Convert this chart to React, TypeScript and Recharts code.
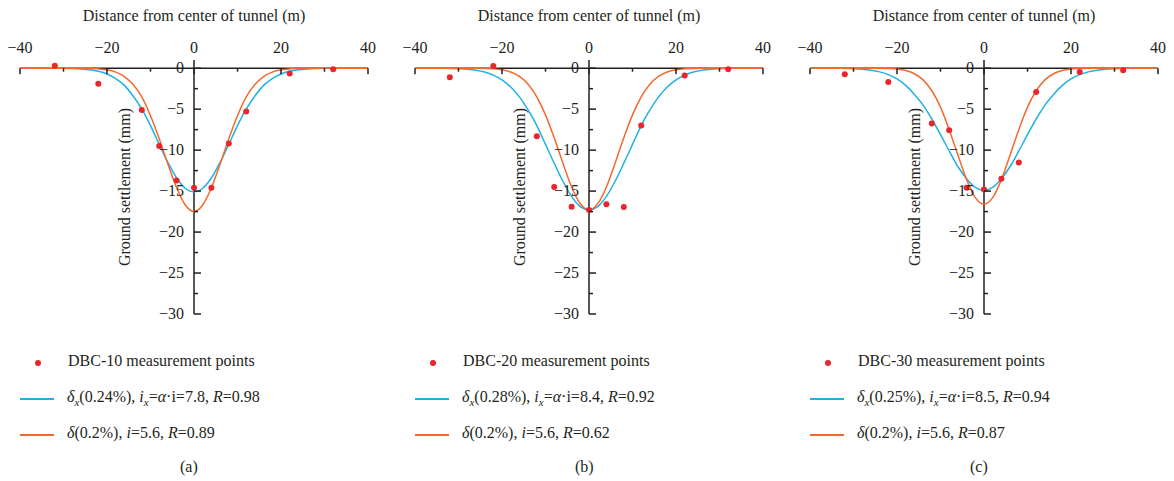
import { ComposedChart, Line, Scatter, XAxis, YAxis, ReferenceLine } from 'recharts';

// x positions of the fitted curves (m)
const xGrid = [
  -40, -38, -36, -34, -32, -30, -28, -26, -24, -22, -20, -18, -16, -14, -12, -10, -8, -6, -4, -2,
  0, 2, 4, 6, 8, 10, 12, 14, 16, 18, 20, 22, 24, 26, 28, 30, 32, 34, 36, 38, 40,
];

// fitted settlement curves (mm)
const blueA = [
  0, 0, 0, 0, 0, -0.02, -0.04, -0.09, -0.19, -0.38, -0.71, -1.27, -2.1, -3.4, -5.0, -7.0, -9.3, -11.5, -13.4, -14.65,
  -15.1, -14.65, -13.4, -11.5, -9.3, -7.0, -5.0, -3.4, -2.1, -1.27, -0.71, -0.38, -0.19, -0.09, -0.04, -0.02, 0, 0, 0, 0, 0,
];
const orangeA = [
  0, 0, 0, 0, 0, 0, 0, 0, -0.03, -0.08, -0.2, -0.48, -1.02, -2.0, -3.5, -5.8, -8.6, -11.7, -14.6, -16.7,
  -17.5, -16.7, -14.6, -11.7, -8.6, -5.8, -3.5, -2.0, -1.02, -0.48, -0.2, -0.08, -0.03, 0, 0, 0, 0, 0, 0, 0, 0,
];
const blueB = [
  0, 0, 0, 0, -0.03, -0.06, -0.13, -0.25, -0.47, -0.84, -1.42, -2.3, -3.5, -5.1, -7.0, -9.3, -11.6, -13.8, -15.65, -16.9,
  -17.3, -16.9, -15.65, -13.8, -11.6, -9.3, -7.0, -5.1, -3.5, -2.3, -1.42, -0.84, -0.47, -0.25, -0.13, -0.06, -0.03, 0, 0, 0, 0,
];
const orangeB = [
  0, 0, 0, 0, 0, 0, 0, 0, -0.03, -0.08, -0.2, -0.47, -1.0, -1.95, -3.5, -5.7, -8.5, -11.6, -14.5, -16.55,
  -17.3, -16.55, -14.5, -11.6, -8.5, -5.7, -3.5, -1.95, -1.0, -0.47, -0.2, -0.08, -0.03, 0, 0, 0, 0, 0, 0, 0, 0,
];
const blueC = [
  0, 0, 0, 0, -0.03, -0.06, -0.13, -0.25, -0.45, -0.79, -1.3, -2.1, -3.2, -4.5, -6.2, -8.1, -10.1, -12.0, -13.5, -14.55,
  -14.9, -14.55, -13.5, -12.0, -10.1, -8.1, -6.2, -4.5, -3.2, -2.1, -1.3, -0.79, -0.45, -0.25, -0.13, -0.06, -0.03, 0, 0, 0, 0,
];
const orangeC = [
  0, 0, 0, 0, 0, 0, 0, 0, -0.01, -0.04, -0.11, -0.29, -0.68, -1.43, -2.75, -4.75, -7.5, -10.6, -13.6, -15.8,
  -16.6, -15.8, -13.6, -10.6, -7.5, -4.75, -2.75, -1.43, -0.68, -0.29, -0.11, -0.04, -0.01, 0, 0, 0, 0, 0, 0, 0, 0,
];

// measurement points
const pointX = [-32, -22, -12, -8, -4, 0, 4, 8, 12, 22, 32];
const pointsA = [0.3, -1.9, -5.1, -9.5, -13.7, -14.6, -14.6, -9.2, -5.3, -0.65, -0.12];
const pointsB = [-1.1, 0.28, -8.3, -14.5, -16.9, -17.3, -16.6, -16.95, -7.0, -0.9, -0.12];
const pointsC = [-0.73, -1.7, -6.75, -7.56, -14.6, -14.8, -13.5, -11.5, -2.9, -0.45, -0.25];

const xTicks = [-40, -30, -20, -10, 0, 10, 20, 30, 40];
const xLabels = [-40, -20, 0, 20, 40];
const yTicks = [0, -2.5, -5, -7.5, -10, -12.5, -15, -17.5, -20, -22.5, -25, -27.5, -30];
const yLabels = [0, -5, -10, -15, -20, -25, -30];

const panels = [
  { tag: '(a)', name: 'DBC-10', blue: blueA, orange: orangeA, pts: pointsA, pct: '0.24%', ix: '7.8', rb: '0.98', ro: '0.89' },
  { tag: '(b)', name: 'DBC-20', blue: blueB, orange: orangeB, pts: pointsB, pct: '0.28%', ix: '8.4', rb: '0.92', ro: '0.62' },
  { tag: '(c)', name: 'DBC-30', blue: blueC, orange: orangeC, pts: pointsC, pct: '0.25%', ix: '8.5', rb: '0.94', ro: '0.87' },
];

const INK = '#231f20';
const BLUE = '#1fb1e6';
const ORANGE = '#f26a2e';
const RED = '#e8262b';
const FONT = "'Liberation Serif', 'Times New Roman', serif";

const CHART_W = 384;
const CHART_H = 330;
const PLOT_LEFT = 20;
const PLOT_TOP = 60;
const PLOT_W = 348;
const PLOT_H = 254;
const X_MIN = -40;
const X_SPAN = 80;
const AXIS_X = PLOT_LEFT + PLOT_W / 2;
const AXIS_Y = PLOT_TOP + PLOT_H / 31;

const fmt = (v: number) => (v < 0 ? '\u2212' + Math.abs(v) : String(v));

// x-axis tick labels, above the zero line
function XTick(props: any) {
  const { x, payload } = props;
  const v = payload.value;
  if (!xLabels.includes(v)) return <g />;
  return (
    <text x={x} y={AXIS_Y - 15} textAnchor="middle" fontSize={16} fontFamily={FONT} fill={INK}>
      {fmt(v)}
    </text>
  );
}

// y-axis ticks sit on the x = 0 line; the zero tick also carries the marks hanging under the x axis
function YTick(props: any) {
  const { y, payload } = props;
  const v = payload.value;
  const major = yLabels.includes(v);
  return (
    <g>
      <rect x={AXIS_X} y={y - 0.75} width={major ? 7 : 4} height={1.5} fill={INK} />
      {v === 0 &&
        xTicks.map((t) => {
          const tx = PLOT_LEFT + ((t - X_MIN) / X_SPAN) * PLOT_W;
          return (
            <rect key={t} x={tx - 0.75} y={y} width={1.5} height={xLabels.includes(t) ? 6 : 3.5} fill={INK} />
          );
        })}
      {major && (
        <text x={AXIS_X - 10} y={y + 5} textAnchor="end" fontSize={16} fontFamily={FONT} fill={INK}>
          {fmt(v)}
        </text>
      )}
    </g>
  );
}

function XTitle() {
  return (
    <text x={AXIS_X} y={21} textAnchor="middle" fontSize={16} fontFamily={FONT} fill={INK}>
      Distance from center of tunnel (m)
    </text>
  );
}

function YTitle() {
  const cx = PLOT_LEFT + 105;
  const cy = PLOT_TOP + PLOT_H / 2;
  return (
    <text
      x={cx}
      y={cy}
      transform={`rotate(-90 ${cx} ${cy})`}
      dy={5}
      textAnchor="middle"
      fontSize={16}
      fontFamily={FONT}
      fill={INK}
    >
      Ground settlement (mm)
    </text>
  );
}

const Dot = (p: any) => <circle cx={p.cx} cy={p.cy} r={3} fill={RED} />;

function Panel({ p, left }: { p: (typeof panels)[number]; left: number }) {
  const rows = xGrid.map((x, i) => ({ x, blue: p.blue[i], orange: p.orange[i] }));
  const pts = pointX.map((x, i) => ({ x, y: p.pts[i] }));
  const sub = { fontSize: 11, verticalAlign: 'sub' as const, fontStyle: 'italic' as const, lineHeight: 0 };
  return (
    <div style={{ position: 'absolute', left, top: 0, width: CHART_W, height: 481 }}>
      <ComposedChart
        width={CHART_W}
        height={CHART_H}
        data={rows}
        margin={{
          top: PLOT_TOP - 30,
          left: PLOT_LEFT - 1,
          right: CHART_W - PLOT_LEFT - PLOT_W,
          bottom: CHART_H - PLOT_TOP - PLOT_H,
        }}
      >
        <ReferenceLine y={0} stroke={INK} strokeWidth={1.5} />
        <ReferenceLine x={0} stroke={INK} strokeWidth={1.5} />
        <Line type="monotone" dataKey="blue" stroke={BLUE} strokeWidth={1.5} dot={false} isAnimationActive={false} />
        <Line type="monotone" dataKey="orange" stroke={ORANGE} strokeWidth={1.5} dot={false} isAnimationActive={false} />
        <Scatter data={pts} dataKey="y" fill={RED} shape={Dot} isAnimationActive={false} />
        <XAxis
          type="number"
          dataKey="x"
          orientation="top"
          height={30}
          domain={[X_MIN, X_MIN + X_SPAN]}
          ticks={xTicks}
          interval={0}
          axisLine={false}
          tickLine={false}
          tick={<XTick />}
          label={<XTitle />}
        />
        <YAxis
          type="number"
          domain={[-30, 1]}
          ticks={yTicks}
          interval={0}
          width={1}
          axisLine={false}
          tickLine={false}
          tick={<YTick />}
          label={<YTitle />}
        />
      </ComposedChart>

      <div style={{ position: 'absolute', left: 0, top: 351, width: CHART_W, fontSize: 16, color: INK, fontFamily: FONT }}>
        <div style={{ position: 'relative', height: 24 }}>
          <span style={{ position: 'absolute', left: 35, top: 9, width: 6, height: 6, borderRadius: 3, background: RED }} />
          <span style={{ position: 'absolute', left: 68, top: 1 }}>{p.name} measurement points</span>
        </div>
        <div style={{ position: 'relative', height: 36, marginTop: 12 }}>
          <span style={{ position: 'absolute', left: 20, top: 11, width: 34, height: 2, background: BLUE }} />
          <span style={{ position: 'absolute', left: 67, top: 1, whiteSpace: 'nowrap' }}>
            <i>δ</i>
            <span style={sub}>x</span>({p.pct}), <i>i</i>
            <span style={sub}>x</span>=<i>α</i>·i={p.ix}, <i>R</i>={p.rb}
          </span>
        </div>
        <div style={{ position: 'relative', height: 24 }}>
          <span style={{ position: 'absolute', left: 20, top: 11, width: 34, height: 2, background: ORANGE }} />
          <span style={{ position: 'absolute', left: 67, top: 1, whiteSpace: 'nowrap' }}>
            <i>δ</i>(0.2%), <i>i</i>=5.6, <i>R</i>={p.ro}
          </span>
        </div>
        <span style={{ position: 'absolute', left: 180, top: 107 }}>{p.tag}</span>
      </div>
    </div>
  );
}

export default function App() {
  return (
    <div
      style={{
        position: 'absolute',
        left: 0,
        top: 0,
        width: 1174,
        height: 481,
        background: '#fff',
        fontFamily: FONT,
        overflow: 'hidden',
      }}
    >
      {panels.map((p, i) => (
        <Panel key={p.tag} p={p} left={i * 395} />
      ))}
    </div>
  );
}
